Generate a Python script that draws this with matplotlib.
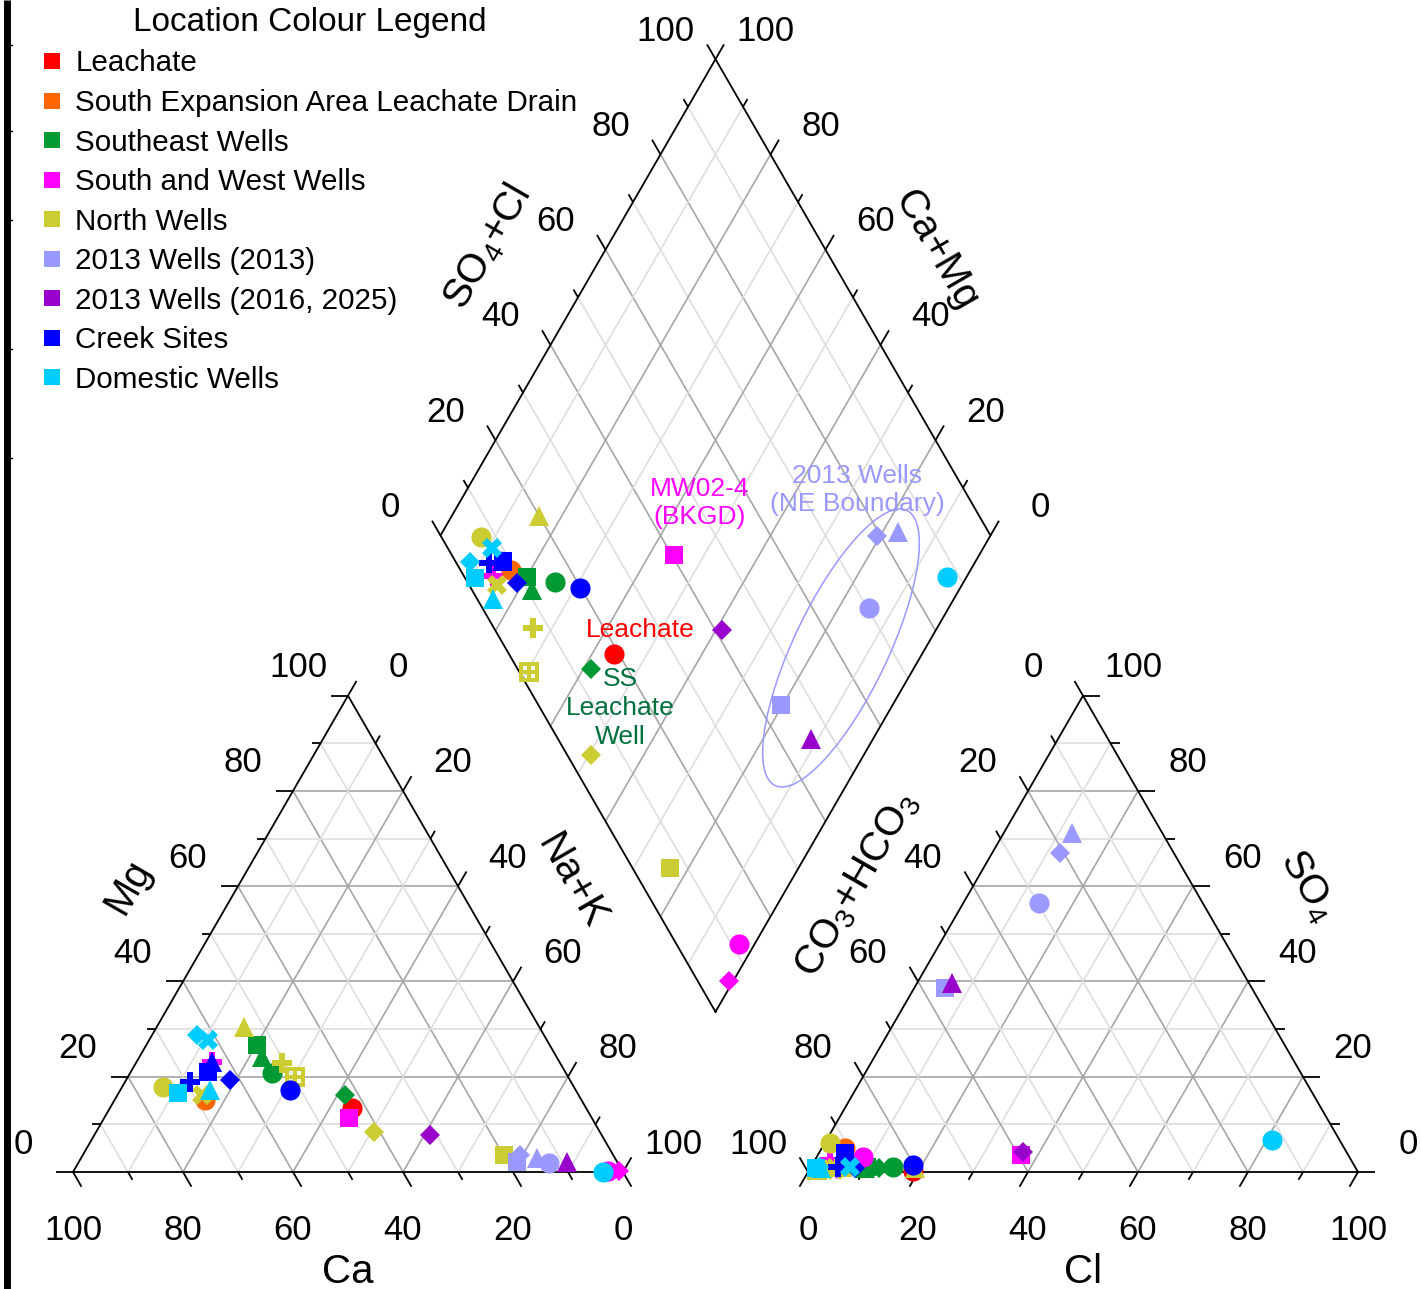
import numpy as np
import matplotlib.pyplot as plt
from matplotlib.lines import Line2D
from matplotlib.patches import Ellipse
from matplotlib.path import Path

plt.rcParams['font.family'] = ['Liberation Sans', 'DejaVu Sans']
plt.rcParams['mathtext.fontset'] = 'custom'
plt.rcParams['mathtext.rm'] = 'Liberation Sans'
plt.rcParams['mathtext.it'] = 'Liberation Sans:italic'
plt.rcParams['mathtext.default'] = 'rm'

# location groups (legend order)
group_names = ['Leachate', 'South Expansion Area Leachate Drain', 'Southeast Wells',
               'South and West Wells', 'North Wells', '2013 Wells (2013)',
               '2013 Wells (2016, 2025)', 'Creek Sites', 'Domestic Wells']
group_colours = ['#ff0000', '#ff6600', '#009933', '#ff00ff', '#cccc33',
                 '#9999ff', '#9900cc', '#0000ff', '#00ccff']

# samples: group index, symbol, cations and anions in % meq/L
sample_group = [0,
                1,
                2, 2, 2, 2,
                3, 3, 3, 3,
                4, 4, 4, 4, 4, 4, 4,
                5, 5, 5, 5,
                6, 6,
                7, 7, 7, 7, 7,
                8, 8, 8, 8, 8]
sample_symbol = ['o',
                 'o',
                 's', '^', 'o', 'D',
                 's', 'o', 'D', 'P',
                 '^', 'o', 'X', 'box', 'P', 'D', 's',
                 'D', '^', 'o', 's',
                 'D', '^',
                 'o', 'D', 's', 'P', '^',
                 'o', 'X', 'D', 's', '^']
ca = [42.6,
      68.5,
      53.2, 53.6, 53.4, 42.4,
      44.2, 2.5, 0.6, 63.1,
      53.7, 74.7, 68.4, 49.6, 50.5, 41.1, 19.8,
      16.9, 14.2, 12.5, 18.2,
      31.2, 9.1,
      51.9, 61.8, 65.0, 69.3, 63.1,
      3.6, 61.6, 63.1, 72.6, 66.5]
mg = [13.4,
      15.1,
      26.7, 24.1, 20.8, 16.2,
      11.3, 0.3, 0.2, 23.1,
      30.4, 17.8, 16.2, 20.0, 22.9, 8.4, 3.6,
      3.6, 2.9, 1.9, 2.1,
      7.8, 2.1,
      17.2, 19.3, 21.0, 18.9, 23.1,
      0.0, 27.7, 28.8, 16.6, 17.2]
cl = [18.9,
      4.2,
      10.3, 10.0, 15.0, 12.5,
      36.9, 8.4, 5.0, 2.8,
      19.0, 1.0, 4.7, 1.4, 6.1, 3.6, 6.0,
      12.3, 12.4, 13.8, 5.6,
      37.0, 6.4,
      18.4, 8.1, 4.7, 5.0, 6.4,
      81.0, 7.1, 1.5, 1.0, 2.0]
so4 = [0.3,
       5.0,
       1.0, 0.8, 1.0, 0.8,
       3.6, 3.1, 0.7, 2.5,
       0.9, 6.1, 0.4, 0.4, 1.0, 0.8, 0.8,
       67.0, 71.2, 56.5, 38.6,
       4.2, 39.7,
       1.5, 0.8, 4.0, 1.0, 2.0,
       6.7, 1.0, 1.0, 0.8, 0.9]

# ---- geometry (figure drawn in pixel units) ----
W, Hpx = 1421, 1289
L = 550.0
H = L * np.sqrt(3) / 2
YB = 1172.0
X_LEFT, X_RIGHT = 73.0, 808.0
DX = (X_LEFT + L + X_RIGHT) / 2
DY = YB - (X_RIGHT - X_LEFT - L) * np.sqrt(3) / 2

GRID_DARK = '#a6a6a6'
GRID_LIGHT = '#dedede'


def tri(x0, r, t):
    return np.array([x0 + L * (r + t / 2), YB - H * t])


def dia(a, c):
    return np.array([DX + L / 2 * (a - c), DY - H * (a + c)])


# box with a plus through it
box_verts, box_codes = [], []
for (x1, y1, x2, y2, ccw) in [(-0.5, -0.5, 0.5, 0.5, True),
                              (-0.32, -0.32, -0.09, -0.09, False),
                              (0.09, -0.32, 0.32, -0.09, False),
                              (-0.32, 0.09, -0.09, 0.32, False),
                              (0.09, 0.09, 0.32, 0.32, False)]:
    pts = [(x1, y1), (x2, y1), (x2, y2), (x1, y2)]
    if not ccw:
        pts = pts[::-1]
    box_verts += pts + [pts[0]]
    box_codes += [Path.MOVETO, Path.LINETO, Path.LINETO, Path.LINETO, Path.CLOSEPOLY]
box_plus = Path(box_verts, box_codes)

marker_map = {'o': 'o', 's': 's', 'D': 'D', '^': '^', 'X': 'X', 'P': 'P', 'box': box_plus}
marker_size = {'o': 14.5, 's': 13.5, 'D': 10.5, '^': 14, 'X': 15, 'P': 15, 'box': 14.5}

fig = plt.figure(figsize=(W / 100, Hpx / 100), dpi=100)
ax = fig.add_axes([0, 0, 1, 1])
ax.set_xlim(0, W)
ax.set_ylim(Hpx, 0)
ax.axis('off')


def seg(p, q, **kw):
    ax.plot([p[0], q[0]], [p[1], q[1]], solid_capstyle='butt', **kw)


def draw_family(line_fn, tick_dir, lab_off):
    d = np.array(tick_dir) / np.hypot(*tick_dir)
    for k in range(11):
        f = k / 10
        p, q = line_fn(f)
        if 0 < k < 10:
            seg(p, q, color=GRID_DARK if k % 2 == 0 else GRID_LIGHT, lw=1.2, zorder=1)
        ln = 17 if k % 2 == 0 else 9
        seg(p, p + d * ln, color='k', lw=1.3, zorder=2)
        if k % 2 == 0:
            ax.text(p[0] + lab_off[0], p[1] + lab_off[1], str(k * 10),
                    fontsize=25, ha='center', va='center')


# left (cation) triangle
draw_family(lambda f: (tri(X_LEFT, 1 - f, 0), tri(X_LEFT, 0, 1 - f)), (0.5, 0.866), (0, 58))
draw_family(lambda f: (tri(X_LEFT, 0, f), tri(X_LEFT, 1 - f, f)), (-1, 0), (-50, -28))
draw_family(lambda f: (tri(X_LEFT, f, 1 - f), tri(X_LEFT, f, 0)), (0.5, -0.866), (50, -28))
# right (anion) triangle
draw_family(lambda f: (tri(X_RIGHT, f, 0), tri(X_RIGHT, f, 1 - f)), (-0.5, 0.866), (0, 58))
draw_family(lambda f: (tri(X_RIGHT, 1 - f, f), tri(X_RIGHT, 0, f)), (1, 0), (50, -28))
draw_family(lambda f: (tri(X_RIGHT, 0, 1 - f), tri(X_RIGHT, 1 - f, 0)), (-0.5, -0.866), (-50, -28))
# diamond
draw_family(lambda f: (dia(f, 1), dia(f, 0)), (-0.5, -0.866), (-50, -28))
draw_family(lambda f: (dia(1, f), dia(0, f)), (0.5, -0.866), (50, -28))

for x0 in (X_LEFT, X_RIGHT):
    outline = [tri(x0, 0, 0), tri(x0, 1, 0), tri(x0, 0, 1), tri(x0, 0, 0)]
    ax.plot([p[0] for p in outline], [p[1] for p in outline], color='k', lw=1.3, zorder=2)
outline = [dia(0, 0), dia(1, 0), dia(1, 1), dia(0, 1), dia(0, 0)]
ax.plot([p[0] for p in outline], [p[1] for p in outline], color='k', lw=1.3, zorder=2)

# axis titles
title_kw = dict(fontsize=29, ha='center', va='center', rotation_mode='anchor')
ax.text(348, 1272, 'Ca', **title_kw)
ax.text(1083, 1272, 'Cl', **title_kw)
ax.text(128, 886, 'Mg', rotation=60, **title_kw)
ax.text(572, 882, 'Na+K', rotation=-60, **title_kw)
ax.text(857, 885, r'CO$_3$+HCO$_3$', rotation=60, **title_kw)
ax.text(1308, 886, r'SO$_4$', rotation=-60, **title_kw)
ax.text(487, 247, r'SO$_4$+Cl', rotation=60, **title_kw)
ax.text(936, 250, 'Ca+Mg', rotation=-60, **title_kw)

# samples
for g, sym, c1, m1, a1, s1 in zip(sample_group, sample_symbol, ca, mg, cl, so4):
    nak = 100 - c1 - m1
    p1 = tri(X_LEFT, nak / 100, m1 / 100)
    p2 = tri(X_RIGHT, a1 / 100, s1 / 100)
    p3 = dia((a1 + s1) / 100, (c1 + m1) / 100)
    for p in (p1, p2, p3):
        ax.plot(p[0], p[1], marker=marker_map[sym], ms=marker_size[sym],
                color=group_colours[g], mew=0, ls='none', zorder=3)

# annotations
ax.text(700, 503, 'MW02-4\n(BKGD)', color='#ff00ff', fontsize=19, ha='center',
        va='center', linespacing=1.2)
ax.text(640, 630, 'Leachate', color='#ff0000', fontsize=19, ha='center', va='center')
ax.text(620, 708, 'SS\nLeachate\nWell', color='#00703c', fontsize=19, ha='center',
        va='center', linespacing=1.25)
ax.text(857, 490, '2013 Wells\n(NE Boundary)', color='#9999ff', fontsize=19,
        ha='center', va='center', linespacing=1.2)
ax.add_patch(Ellipse((841, 648), 305, 94, angle=-64.4, fill=False,
                     ec='#9999ff', lw=1.1, zorder=2))

# stray axis line at the left edge
ax.plot([6.5, 6.5], [0, Hpx], color='k', lw=5, solid_capstyle='butt')
for yt in (45, 131, 220, 349, 458):
    ax.plot([6, 12], [yt, yt], color='k', lw=1)

handles = [Line2D([], [], marker='s', ls='none', color=c, mew=0, ms=11)
           for c in group_colours]
fig.legend(handles, group_names, loc='upper left',
           bbox_to_anchor=(38.5 / W, 1 - 2.5 / Hpx), frameon=False, fontsize=21.3,
           title='Location Colour Legend', title_fontsize=24,
           handlelength=0.6, handletextpad=0.5, labelspacing=0.39,
           borderpad=0.15, borderaxespad=0)

fig.savefig('out.png', dpi=100)
